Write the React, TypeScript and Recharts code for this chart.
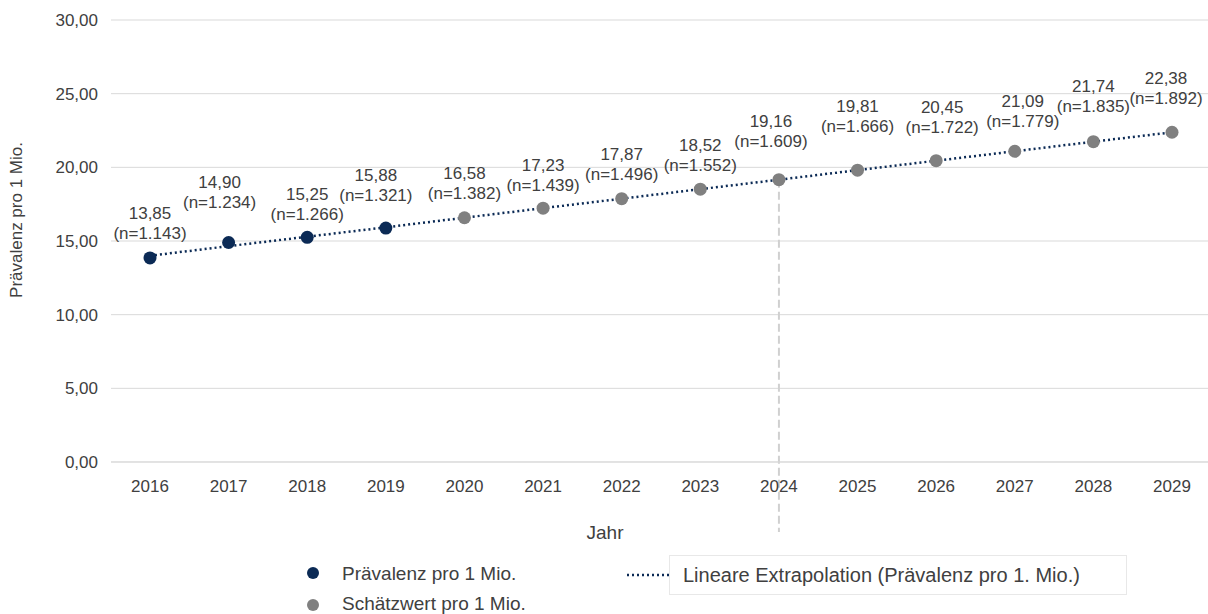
import React from 'react';
import {
  ComposedChart,
  Line,
  XAxis,
  YAxis,
  CartesianGrid,
  ReferenceLine,
} from 'recharts';

const years = ['2016', '2017', '2018', '2019', '2020', '2021', '2022', '2023', '2024', '2025', '2026', '2027', '2028', '2029'];
const measured = [13.85, 14.9, 15.25, 15.88, null, null, null, null, null, null, null, null, null, null];
const estimated = [null, null, null, null, 16.58, 17.23, 17.87, 18.52, 19.16, 19.81, 20.45, 21.09, 21.74, 22.38];
const trend = [14.0, 14.65, 15.29, 15.93, 16.58, 17.23, 17.87, 18.52, 19.16, 19.81, 20.45, 21.09, 21.74, 22.38];
const cases = ['1.143', '1.234', '1.266', '1.321', '1.382', '1.439', '1.496', '1.552', '1.609', '1.666', '1.722', '1.779', '1.835', '1.892'];
const yTicks = [0, 5, 10, 15, 20, 25, 30];

// label placement as in the original (px above / sideways from each point)
const labelLift = [23, 39, 22, 32, 23, 22, 23, 23, 37, 43, 32, 29, 34, 33];
const labelNudge = [0, -9, 0, -10, 0, 0, 0, 0, -8, 0, 6, 8, 0, -6];

const NAVY = '#0b2a55';
const GREY = '#808080';
const TEXT = '#404040';
const FONT = '"Liberation Sans", Arial, sans-serif';

const chartData = years.map((year, i) => ({
  year,
  measured: measured[i],
  estimated: estimated[i],
  trend: trend[i],
  n: cases[i],
}));

const fmt = (v: number) => v.toFixed(2).replace('.', ',');

function PointLabel(props: any) {
  const { x, y, index, value } = props;
  if (value == null || !Number.isFinite(x) || !Number.isFinite(y)) return null;
  const lift = labelLift[index];
  const cx = x + labelNudge[index];
  return (
    <g>
      <text x={cx} y={y - lift - 20} textAnchor="middle" dominantBaseline="middle" fill={TEXT} fontSize={17} fontFamily={FONT}>
        {fmt(Number(value))}
      </text>
      <text x={cx} y={y - lift} textAnchor="middle" dominantBaseline="middle" fill={TEXT} fontSize={17} fontFamily={FONT}>
        {`(n=${chartData[index].n})`}
      </text>
    </g>
  );
}

export default function App() {
  return (
    <div style={{ position: 'absolute', left: 0, top: 0, width: 1208, height: 614, overflow: 'hidden', background: '#fff', fontFamily: FONT }}>
      <ComposedChart
        width={1212}
        height={614}
        data={chartData}
        margin={{ top: 20, right: 0, bottom: 122, left: 0 }}
      >
        <CartesianGrid vertical={false} stroke="#d9d9d9" />
        <XAxis
          dataKey="year"
          padding={{ left: 39, right: 40 }}
          axisLine={{ stroke: '#d9d9d9' }}
          tickLine={false}
          tick={{ fill: TEXT, fontSize: 17, fontFamily: FONT }}
          tickMargin={12}
          height={30}
          label={{
            content: () => (
              <text x={605} y={534} textAnchor="middle" dominantBaseline="middle" fill={TEXT} fontSize={19} fontFamily={FONT}>
                Jahr
              </text>
            ),
          }}
        />
        <YAxis
          domain={[0, 30]}
          ticks={yTicks}
          width={111}
          axisLine={false}
          tickLine={false}
          tickFormatter={fmt}
          tick={{ fill: TEXT, fontSize: 17, fontFamily: FONT }}
          tickMargin={7}
          label={{
            content: () => (
              <text
                x={18}
                y={220}
                transform="rotate(-90 18 220)"
                textAnchor="middle"
                dominantBaseline="middle"
                fill={TEXT}
                fontSize={17}
                fontFamily={FONT}
              >
                Prävalenz pro 1 Mio.
              </text>
            ),
          }}
        />
        <ReferenceLine
          segment={[{ x: '2024', y: 19.16 }, { x: '2024', y: -4.75 }]}
          ifOverflow="visible"
          stroke="#d0d0d0"
          strokeWidth={2}
          strokeDasharray="8 4"
        />
        <Line
          dataKey="trend"
          stroke={NAVY}
          strokeWidth={2.5}
          strokeDasharray="2 3"
          dot={false}
          activeDot={false}
          isAnimationActive={false}
        />
        <Line
          dataKey="measured"
          stroke="none"
          dot={{ r: 6.5, fill: NAVY, stroke: NAVY, strokeWidth: 0 }}
          activeDot={false}
          isAnimationActive={false}
          label={PointLabel}
        />
        <Line
          dataKey="estimated"
          stroke="none"
          dot={{ r: 6.5, fill: GREY, stroke: GREY, strokeWidth: 0 }}
          activeDot={false}
          isAnimationActive={false}
          label={PointLabel}
        />
      </ComposedChart>

      {/* legend */}
      <div style={{ position: 'absolute', left: 307, top: 567, width: 12, height: 12, borderRadius: 6, background: NAVY }} />
      <div style={{ position: 'absolute', left: 342, top: 563, fontSize: 19, color: TEXT, lineHeight: '22px' }}>Prävalenz pro 1 Mio.</div>
      <div style={{ position: 'absolute', left: 307, top: 599, width: 12, height: 12, borderRadius: 6, background: GREY }} />
      <div style={{ position: 'absolute', left: 342, top: 593, fontSize: 19, color: TEXT, lineHeight: '22px' }}>Schätzwert pro 1 Mio.</div>
      <svg style={{ position: 'absolute', left: 626, top: 570 }} width={44} height={10}>
        <line x1={1} y1={5} x2={44} y2={5} stroke={NAVY} strokeWidth={2.5} strokeDasharray="2 3" />
      </svg>
      <div
        style={{
          position: 'absolute',
          left: 669,
          top: 555,
          width: 458,
          height: 40,
          border: '1px solid #e8e8e8',
          boxSizing: 'border-box',
        }}
      />
      <div style={{ position: 'absolute', left: 683, top: 564, fontSize: 20, color: TEXT, lineHeight: '23px' }}>
        Lineare Extrapolation (Prävalenz pro 1. Mio.)
      </div>
    </div>
  );
}
